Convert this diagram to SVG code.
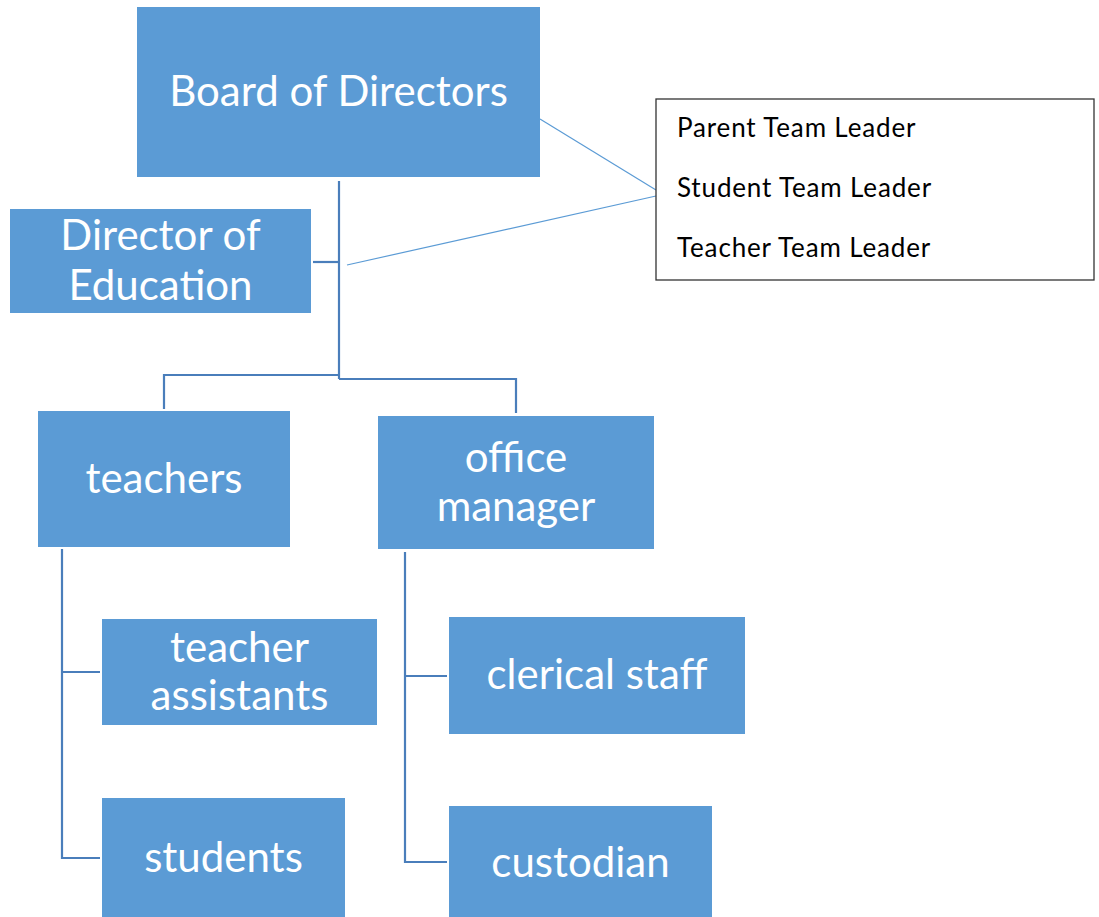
<svg xmlns="http://www.w3.org/2000/svg" width="1099" height="917" viewBox="0 0 1099 917">
  <style>
    .node { fill: #5B9BD5; }
    .label { fill: #ffffff; font-family: Lato, "Open Sans", sans-serif; font-size: 42px; text-anchor: middle; }
    .elbow { fill: none; stroke: #4A7EBB; stroke-width: 2.2; }
    .thin { fill: none; stroke: #5B9BD5; stroke-width: 1.2; }
    .note { fill: #ffffff; stroke: #333333; stroke-width: 1.3; }
    .note-text { fill: #000000; font-family: Lato, "Open Sans", sans-serif; font-size: 26px; letter-spacing: 0.85px; }
  </style>

  <rect width="1099" height="917" fill="#ffffff"/>

  <g id="connectors">
    <!-- trunk from the board down to the two branches -->
    <path class="elbow" d="M339 181 V379"/>
    <path class="elbow" d="M313 262 H339"/>
    <path class="elbow" d="M339 375 H164 V409"/>
    <path class="elbow" d="M339 379 H516 V413"/>
    <!-- teachers branch -->
    <path class="elbow" d="M62 549 V858 H100"/>
    <path class="elbow" d="M62 672 H100"/>
    <!-- office manager branch -->
    <path class="elbow" d="M405 552 V862 H447"/>
    <path class="elbow" d="M405 676 H447"/>
    <!-- links to the team leader list -->
    <path class="thin" d="M540 119 L656 190"/>
    <path class="thin" d="M347 265 L656 196"/>
  </g>

  <g id="board">
    <rect class="node" x="137" y="7" width="403" height="170"/>
    <text class="label" x="338.5" y="106">Board of Directors</text>
  </g>

  <g id="director-education">
    <rect class="node" x="10" y="209" width="301" height="104"/>
    <text class="label" x="160.5" y="250">Director of</text>
    <text class="label" x="160.5" y="300">Education</text>
  </g>

  <g id="team-leaders">
    <rect class="note" x="656" y="99" width="438" height="181"/>
    <text class="note-text" x="677" y="137">Parent Team Leader</text>
    <text class="note-text" x="677" y="197">Student Team Leader</text>
    <text class="note-text" x="677" y="257">Teacher Team Leader</text>
  </g>

  <g id="teachers">
    <rect class="node" x="38" y="411" width="252" height="136"/>
    <text class="label" x="164" y="493">teachers</text>
  </g>

  <g id="office-manager">
    <rect class="node" x="378" y="416" width="276" height="133"/>
    <text class="label" x="516" y="472">office</text>
    <text class="label" x="516" y="521">manager</text>
  </g>

  <g id="teacher-assistants">
    <rect class="node" x="102" y="619" width="275" height="106"/>
    <text class="label" x="239.5" y="662">teacher</text>
    <text class="label" x="239.5" y="710">assistants</text>
  </g>

  <g id="students">
    <rect class="node" x="102" y="798" width="243" height="119"/>
    <text class="label" x="223.5" y="872">students</text>
  </g>

  <g id="clerical-staff">
    <rect class="node" x="449" y="617" width="296" height="117"/>
    <text class="label" x="597" y="689">clerical staff</text>
  </g>

  <g id="custodian">
    <rect class="node" x="449" y="806" width="263" height="111"/>
    <text class="label" x="580.5" y="877">custodian</text>
  </g>
</svg>
